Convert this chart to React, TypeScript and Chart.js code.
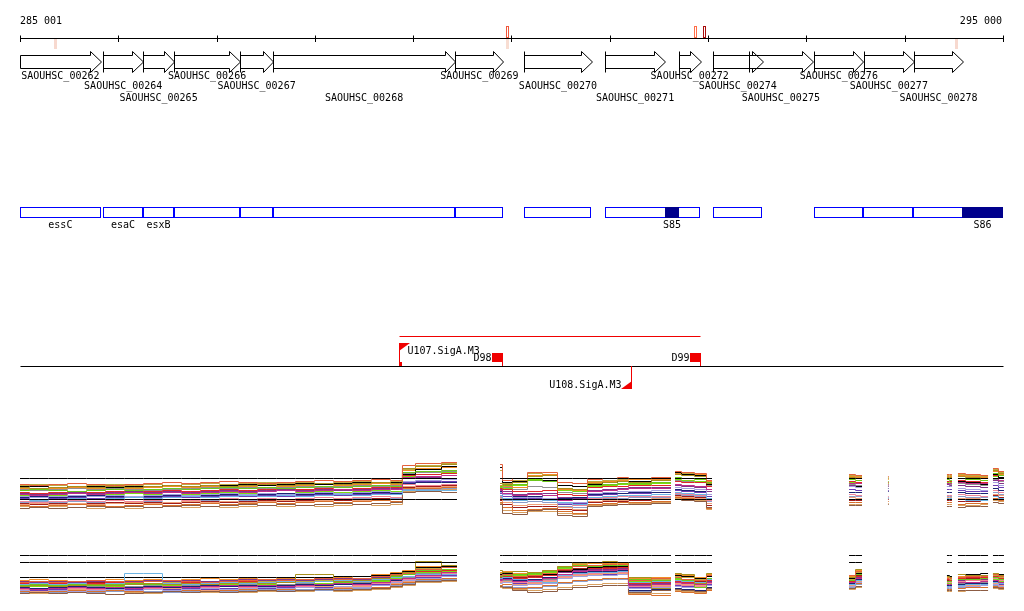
import React, { useEffect, useRef } from "react";
import { Chart, registerables } from "chart.js";

Chart.register(...registerables);

// ---------------- view / ruler ----------------
const viewStart = 285001;
const viewEnd = 295000;
const rulerTicks = [285001, 286000, 287000, 288000, 289000, 290000, 291000, 292000, 293000, 294000, 295000];
const rulerLabels = ["285 001", "295 000"];

// signal marks next to the ruler (position, strand, colour)
const markerPos = [285352, 289950, 289950, 291872, 291956, 294517];
const markerStrand = [-1, 1, -1, 1, 1, -1];
const markerColor = ["#f7d9cf", "#f0583c", "#f8ddd2", "#ff6e48", "#a80c0c", "#f7d9cf"];

// ---------------- genes ----------------
const geneNames = [
  "SAOUHSC_00262", "SAOUHSC_00264", "SAOUHSC_00265", "SAOUHSC_00266", "SAOUHSC_00267",
  "SAOUHSC_00268", "SAOUHSC_00269", "SAOUHSC_00270", "SAOUHSC_00271", "SAOUHSC_00272",
  "SAOUHSC_00274", "SAOUHSC_00275", "SAOUHSC_00276", "SAOUHSC_00277", "SAOUHSC_00278",
];
const geneStarts = [284700, 285850, 286252, 286568, 287239, 287575, 289428, 290128, 290952, 291704, 292050, 292416, 293078, 293586, 294095];
const geneEnds = [285822, 286252, 286568, 287239, 287575, 289426, 289919, 290819, 291562, 291923, 292554, 293064, 293581, 294090, 294593];
const geneRows = [0, 1, 2, 0, 1, 2, 0, 1, 2, 0, 1, 2, 0, 1, 2];

// ---------------- operons / sRNA ----------------
const operonStarts = [284700, 285845, 286252, 286568, 287239, 287575, 289426, 290128, 290952, 292050, 293078, 293576, 294085];
const operonEnds = [285822, 286252, 286568, 287239, 287575, 289426, 289914, 290809, 291918, 292549, 293576, 294085, 295300];
const operonNames = ["essC", "esaC", "esxB", "", "", "", "", "", "", "", "", "", ""];
const srnaStarts = [291562, 294583];
const srnaEnds = [291704, 295300];
const srnaNames = ["S85", "S86"];

// ---------------- transcription units ----------------
const tuStarts = [288856];
const tuEnds = [291918];
const promoterNames = ["U107.SigA.M3", "U108.SigA.M3"];
const promoterPos = [288856, 291216];
const promoterStrand = [1, -1];
const terminatorNames = ["D98", "D99"];
const terminatorPos = [289904, 291918];

// ---------------- expression profiles ----------------
// probe positions (bp); a null value in a series breaks the line (no probes there)
const probeX = [
  285001, 285194, 285388, 285581, 285774, 285967, 286161, 286354, 286547, 286740,
  286934, 287127, 287320, 287513, 287707, 287900, 288093, 288287, 288480, 288673,
  288866, 288917, 289131, 289446,
  289660,
  289884, 289934, 290087, 290240, 290392, 290545, 290697, 290850, 291002, 291155, 291226, 291623,
  291643,
  291664, 291796, 291928, 292040,
  292732,
  293434, 293566,
  293698,
  293830, 293840,
  294156,
  294430, 294481,
  294512,
  294542, 294695, 294848,
  294878,
  294898, 295010,
];

// panel 1 (upper profiles)
const p1Orange = [10.0, 9.75, 10.0, 10.25, 10.0, 9.75, 10.0, 10.25, 10.5, 10.25, 10.5, 10.75, 10.5, 10.25, 10.5, 10.75, 11.0, 10.75, 11.0, 11.25, 11.0, 14.75, 15.25, 15.5, null, 15.0, 11.0, 11.5, 13.0, 13.0, 10.5, 10.25, 11.25, 11.5, 11.75, 11.5, 11.75, null, 13.25, 13.0, 12.75, 11.0, null, 12.5, 12.25, null, 12.0, 12.0, null, 12.5, 12.5, null, 12.75, 12.5, 12.25, null, 14.0, 13.25];
const p1Olive = [9.25, 9.0, 9.25, 9.5, 9.25, 9.5, 9.25, 9.5, 9.75, 9.5, 9.75, 9.5, 9.75, 10.0, 9.75, 10.0, 10.25, 10.0, 10.25, 10.5, 10.25, 14.0, 14.5, 15.0, null, 10.25, 10.0, 10.5, 12.0, 12.25, 9.0, 8.75, 10.25, 10.5, 10.75, 10.5, 11.0, null, 12.5, 12.25, 12.0, 10.25, null, 11.75, 11.5, null, 11.5, 11.5, null, 11.75, 11.75, null, 12.0, 11.75, 11.5, null, 13.5, 12.75];
const p1Magenta = [7.5, 7.25, 7.5, 7.75, 7.5, 7.75, 8.0, 7.75, 8.0, 7.75, 8.0, 8.25, 8.0, 8.25, 8.5, 8.25, 8.5, 8.75, 8.5, 8.75, 8.75, 11.75, 12.0, 12.25, null, 8.5, 7.75, 7.25, 7.5, 7.25, 6.0, 6.25, 8.25, 8.5, 8.75, 9.0, 9.0, null, 10.0, 9.75, 9.5, 8.75, null, 10.25, 10.25, null, 10.0, 10.0, null, 10.25, 10.25, null, 10.5, 10.25, 10.25, null, 11.5, 11.0];
const p1Blue = [6.25, 6.0, 6.25, 6.5, 6.25, 6.5, 6.75, 6.5, 6.75, 7.0, 6.75, 7.0, 7.25, 7.0, 7.25, 7.0, 7.25, 7.5, 7.25, 7.5, 7.5, 8.5, 8.5, 8.5, null, 7.25, 6.5, 6.0, 6.25, 6.0, 5.5, 5.0, 6.75, 7.0, 7.25, 7.25, 7.5, null, 8.0, 7.75, 7.5, 6.5, null, 6.25, 6.25, null, 6.5, 6.5, null, 6.5, 6.5, null, 6.25, 6.0, 6.0, null, 7.0, 6.5];
const p1Green = [8.5, 8.75, 8.5, 8.25, 8.5, 8.75, 8.5, 8.75, 9.0, 8.75, 9.0, 9.25, 9.0, 9.25, 9.0, 9.25, 9.5, 9.25, 9.5, 9.75, 9.5, 13.0, 13.25, 13.5, null, 9.5, 9.75, 10.0, 11.0, 10.75, 9.0, 8.75, 9.75, 10.0, 10.25, 10.25, 10.5, null, 11.75, 11.5, 11.25, 10.5, null, 11.25, 11.0, null, 10.75, 10.75, null, 11.25, 11.0, null, 11.5, 11.25, 11.0, null, 12.75, 12.25];
const p1Lavender = [7.0, 6.75, 7.0, 7.25, 7.0, 7.25, 7.0, 7.25, 7.5, 7.25, 7.5, 7.75, 7.5, 7.75, 7.5, 7.75, 8.0, 7.75, 8.0, 8.25, 8.0, 10.75, 11.0, 11.25, null, 8.0, 7.5, 6.75, 6.75, 6.5, 5.25, 5.5, 7.75, 8.0, 8.25, 8.25, 8.5, null, 9.25, 9.0, 8.75, 7.5, null, 9.5, 9.25, null, 9.0, 9.0, null, 9.5, 9.5, null, 9.0, 8.75, 8.5, null, 10.5, 9.75];
const p1Brown = [4.0, 4.25, 4.0, 4.25, 4.5, 4.25, 4.5, 4.25, 4.5, 4.75, 4.5, 4.75, 5.0, 4.75, 5.0, 4.75, 5.0, 5.25, 5.0, 5.25, 5.5, 8.0, 8.25, 8.0, null, 5.0, 2.75, 2.5, 3.5, 3.75, 2.25, 2.0, 4.5, 4.75, 5.0, 5.0, 5.25, null, 6.25, 6.0, 5.75, 4.25, null, 4.75, 4.75, null, 5.0, 5.0, null, 4.5, 4.5, null, 4.25, 4.5, 4.5, null, 5.5, 5.25];
const p1Navy = [6.75, 7.0, 6.75, 7.0, 7.25, 7.0, 6.75, 7.0, 7.25, 7.0, 7.25, 7.5, 7.25, 7.5, 7.75, 7.5, 7.75, 7.5, 7.75, 8.0, 7.75, 10.25, 10.5, 10.5, null, 8.25, 7.75, 7.0, 7.0, 7.25, 6.5, 6.75, 7.5, 7.75, 7.75, 8.0, 8.0, null, 8.75, 8.5, 8.25, 7.5, null, 8.0, 8.0, null, 8.25, 8.25, null, 8.0, 8.0, null, 8.0, 7.75, 7.75, null, 9.0, 8.5];
const p1Pink = [5.75, 5.5, 5.75, 6.0, 5.75, 6.0, 5.75, 6.0, 6.25, 6.0, 6.25, 6.5, 6.25, 6.5, 6.25, 6.5, 6.75, 6.5, 6.75, 7.0, 6.75, 10.0, 9.75, 10.0, null, 7.0, 6.5, 6.25, 6.25, 6.0, 5.25, 4.75, 6.5, 6.75, 7.0, 7.0, 7.0, null, 7.75, 7.5, 7.25, 6.0, null, 7.5, 7.25, null, 7.0, 7.0, null, 7.25, 7.25, null, 7.5, 7.25, 7.0, null, 8.5, 8.0];
const p1Black = [9.5, 9.5, 9.25, 9.5, 9.5, 9.25, 9.5, 9.5, 9.75, 9.5, 9.75, 9.75, 10.0, 9.75, 10.0, 10.25, 10.0, 10.25, 10.5, 10.5, 10.5, 12.5, 13.75, 14.5, null, 14.25, 10.5, 10.75, 11.0, 11.0, 9.75, 9.5, 10.0, 10.5, 10.75, 10.75, 11.0, null, 13.0, 12.5, 12.25, 10.0, null, 9.5, 9.5, null, 9.0, 9.0, null, 9.5, 9.5, null, 10.75, 10.5, 10.0, null, 12.5, 11.75];
const p1DarkOrange = [4.75, 4.5, 4.75, 5.0, 4.75, 4.5, 4.75, 5.0, 4.75, 5.0, 5.25, 5.0, 5.25, 5.5, 5.25, 5.5, 5.75, 5.5, 5.75, 6.0, 5.75, 9.0, 9.0, 9.25, null, 5.5, 4.25, 3.5, 3.75, 4.0, 3.25, 2.75, 5.0, 5.25, 5.5, 5.5, 5.75, null, 6.75, 6.5, 6.25, 4.0, null, 5.5, 5.5, null, 5.75, 5.75, null, 5.5, 5.5, null, 5.0, 5.25, 5.25, null, 6.5, 6.0];
const p1Red = [8.0, 7.75, 8.0, 8.25, 8.0, 8.25, 8.0, 8.25, 8.5, 8.25, 8.5, 8.75, 8.5, 8.75, 9.0, 8.75, 9.0, 9.25, 9.0, 9.25, 9.25, 12.25, 12.5, 12.75, null, 9.0, 8.75, 8.25, 8.25, 8.5, 7.5, 7.25, 9.25, 9.5, 9.5, 9.75, 9.75, null, 10.75, 10.5, 10.5, 9.5, null, 10.75, 10.5, null, 10.5, 10.5, null, 10.75, 10.75, null, 11.0, 10.75, 10.5, null, 12.25, 11.5];
const p1Salmon = [5.0, 5.25, 5.0, 5.25, 5.0, 5.25, 5.5, 5.25, 5.5, 5.75, 5.5, 5.75, 5.5, 5.75, 6.0, 5.75, 6.0, 6.25, 6.0, 6.25, 6.25, 9.5, 9.25, 9.5, null, 6.5, 5.5, 4.75, 5.0, 5.0, 4.25, 3.75, 5.75, 6.0, 6.0, 6.25, 6.5, null, 7.0, 6.75, 6.5, 5.25, null, 6.75, 6.5, null, 6.5, 6.5, null, 6.75, 6.75, null, 6.5, 6.5, 6.25, null, 7.5, 7.25];
const p1Plum = [7.75, 7.5, 7.75, 8.0, 7.75, 8.0, 8.25, 8.0, 8.25, 8.0, 8.25, 8.5, 8.25, 8.5, 8.75, 8.5, 8.75, 8.5, 8.75, 9.0, 9.0, 11.5, 11.75, 11.5, null, 8.75, 8.25, 7.5, 7.75, 7.75, 6.75, 6.5, 8.5, 8.75, 9.0, 9.25, 9.25, null, 9.75, 9.5, 9.25, 8.25, null, 9.75, 9.5, null, 9.5, 9.5, null, 10.0, 9.75, null, 9.75, 9.5, 9.25, null, 11.0, 10.25];
const p1Amber = [9.0, 8.75, 9.0, 9.25, 9.0, 9.25, 9.0, 9.25, 9.5, 9.25, 9.5, 9.25, 9.5, 9.75, 9.5, 9.75, 10.0, 9.75, 10.0, 10.25, 10.0, 13.5, 14.0, 14.25, null, 9.75, 9.5, 9.25, 12.25, 12.5, 8.75, 8.5, 10.5, 10.75, 11.0, 11.25, 11.25, null, 12.75, 12.5, 12.5, 10.75, null, 12.0, 11.75, null, 11.25, 11.25, null, 12.0, 12.0, null, 12.25, 12.0, 11.75, null, 13.25, 12.5];
const p1Slate = [5.5, 5.75, 5.5, 5.75, 5.5, 5.25, 5.5, 5.75, 5.5, 5.75, 6.0, 5.75, 6.0, 5.75, 6.0, 6.25, 6.0, 6.25, 6.5, 6.25, 6.5, 8.75, 8.75, 9.0, null, 6.75, 6.0, 5.5, 5.75, 5.5, 4.5, 4.25, 6.25, 6.5, 6.5, 6.75, 6.75, null, 7.5, 7.25, 7.0, 5.75, null, 7.0, 7.0, null, 6.75, 6.75, null, 7.0, 7.0, null, 7.0, 6.75, 6.75, null, 8.0, 7.5];
const p1Lime = [7.25, 7.5, 7.25, 7.0, 7.25, 7.5, 7.75, 7.5, 7.25, 7.5, 7.75, 8.0, 7.75, 7.5, 7.75, 8.0, 8.25, 8.0, 8.25, 8.5, 8.25, 12.0, 12.5, 13.0, null, 9.25, 9.0, 9.75, 11.25, 11.0, 8.5, 8.25, 9.5, 9.75, 10.0, 10.0, 10.25, null, 11.25, 11.0, 10.75, 10.0, null, 10.5, 10.25, null, 10.25, 10.25, null, 10.5, 10.5, null, 10.75, 10.5, 10.5, null, 12.0, 11.5];
const p1Khaki = [9.75, 10.0, 9.75, 9.5, 9.75, 10.0, 9.75, 10.0, 9.75, 10.0, 10.25, 10.0, 10.25, 10.5, 10.25, 10.5, 10.25, 10.5, 10.75, 10.5, 10.75, 13.75, 14.75, 15.25, null, 13.5, 10.25, 11.0, 12.75, 12.5, 9.75, 9.5, 10.75, 11.0, 11.25, 11.25, 11.5, null, 13.0, 12.75, 12.5, 10.5, null, 12.25, 12.0, null, 11.75, 11.75, null, 12.25, 12.25, null, 12.5, 12.25, 12.0, null, 13.75, 13.0];
const p1Purple = [6.5, 6.75, 6.5, 6.75, 6.5, 6.75, 7.0, 6.75, 7.0, 6.75, 7.0, 7.25, 7.0, 7.25, 7.0, 7.25, 7.5, 7.25, 7.5, 7.75, 7.5, 10.5, 10.75, 10.75, null, 7.75, 7.0, 6.5, 6.5, 6.25, 5.0, 5.25, 7.25, 7.5, 7.75, 7.75, 8.0, null, 8.5, 8.25, 8.0, 7.0, null, 8.75, 8.5, null, 8.5, 8.5, null, 8.75, 8.75, null, 8.5, 8.25, 8.25, null, 9.75, 9.25];
const p1Grey = [8.75, 8.5, 8.75, 9.0, 8.75, 9.0, 8.75, 8.5, 8.75, 9.0, 9.25, 9.0, 9.25, 9.0, 9.25, 9.5, 9.25, 9.5, 9.75, 9.5, 9.75, 12.75, 13.0, 13.25, null, 9.25, 9.25, 8.75, 9.5, 9.25, 8.0, 7.75, 9.5, 9.75, 10.0, 10.0, 10.25, null, 11.0, 10.75, 10.75, 9.75, null, 10.0, 9.75, null, 9.75, 9.75, null, 10.25, 10.0, null, 10.25, 10.0, 9.75, null, 11.25, 10.75];
const p1Tan = [4.5, 4.25, 4.5, 4.25, 4.0, 4.25, 4.0, 4.25, 4.5, 4.25, 4.5, 4.25, 4.5, 4.75, 4.5, 4.75, 4.5, 4.75, 5.0, 4.75, 5.0, 8.25, 8.5, 8.75, null, 5.25, 3.5, 3.0, 3.25, 3.25, 2.75, 2.5, 4.75, 5.0, 5.0, 5.25, 5.5, null, 6.5, 6.25, 6.0, 3.75, null, 5.0, 5.0, null, 5.25, 5.25, null, 5.0, 5.0, null, 4.75, 4.75, 5.0, null, 6.0, 5.75];
const p1DarkRed = [5.25, 5.0, 5.25, 5.0, 5.25, 5.5, 5.25, 5.5, 5.25, 5.5, 5.75, 5.5, 5.75, 6.0, 5.75, 6.0, 6.25, 6.0, 6.25, 6.5, 6.25, 9.25, 9.5, 9.75, null, 6.0, 5.0, 4.25, 4.5, 4.5, 3.75, 3.5, 5.5, 5.75, 5.75, 6.0, 6.25, null, 7.25, 7.0, 6.75, 4.75, null, 6.0, 6.0, null, 6.25, 6.25, null, 6.0, 6.0, null, 5.75, 5.75, 6.0, null, 7.25, 6.75];

// panel 2 (lower profiles)
const p2Orange = [6.5, 6.75, 6.5, 6.75, 7.0, 6.75, 6.5, 6.75, 7.0, 6.75, 6.5, 6.75, 7.0, 7.25, 7.0, 7.25, 7.5, 7.25, 7.5, 8.0, 8.5, 8.75, 9.75, 10.25, null, 8.25, 8.5, 8.0, 8.25, 8.75, 9.75, 10.5, 10.75, 11.0, 11.0, 7.0, 7.5, null, 7.75, 7.25, 7.0, 8.25, null, 8.25, 9.25, null, null, null, null, 7.5, 7.5, null, 7.75, 8.0, 8.0, null, 8.5, 8.0];
const p2Olive = [5.5, 5.75, 5.5, 5.75, 6.0, 5.75, 6.0, 6.25, 6.0, 6.25, 6.0, 6.25, 6.5, 6.25, 6.5, 8.5, 8.5, 6.75, 7.0, 7.5, 8.25, 9.0, 11.75, 10.75, null, 9.5, 9.0, 9.25, 9.0, 9.5, 10.5, 11.5, 11.5, 11.75, 11.5, 7.75, 5.0, null, 8.75, 8.5, 6.25, 8.75, null, 7.75, 9.75, null, null, null, null, 8.0, 7.75, null, 8.5, 8.25, 8.25, null, 8.75, 8.25];
const p2Magenta = [5.0, 4.75, 5.0, 5.25, 5.0, 5.25, 5.0, 5.25, 5.5, 5.25, 5.5, 5.75, 5.5, 5.75, 5.5, 5.75, 6.0, 6.25, 6.0, 6.5, 7.25, 7.5, 8.25, 9.0, null, 7.0, 7.25, 6.75, 7.0, 7.5, 8.5, 9.25, 9.5, 9.5, 9.75, 5.75, 6.0, null, 6.5, 6.25, 6.0, 6.5, null, 6.5, 7.5, null, null, null, null, 6.0, 6.0, null, 6.5, 6.5, 6.75, null, 7.0, 6.5];
const p2Blue = [6.0, 6.25, 6.0, 6.25, 6.0, 6.25, 8.75, 8.75, 6.25, 6.0, 6.25, 6.5, 6.25, 6.5, 6.75, 6.5, 6.75, 7.0, 6.75, 7.25, 7.75, 8.0, 8.5, 8.5, null, 7.5, 7.75, 7.25, 6.75, 6.5, 8.25, 8.75, 9.0, 9.0, 9.25, 6.5, 6.75, null, 7.0, 6.75, 6.5, 7.25, null, 6.0, 7.0, null, null, null, null, 5.5, 5.5, null, 5.75, 6.0, 6.0, null, 6.5, 6.25];
const p2Green = [5.75, 6.0, 5.75, 6.0, 5.75, 6.0, 6.25, 6.0, 6.25, 6.0, 6.25, 6.5, 6.25, 6.5, 6.75, 6.5, 6.75, 6.5, 6.75, 7.0, 8.0, 8.5, 9.5, 9.75, null, 8.0, 8.25, 8.5, 8.75, 9.25, 10.25, 10.75, 10.5, 10.75, 10.75, 7.25, 7.0, null, 7.5, 7.0, 5.25, 7.5, null, 7.0, 8.5, null, null, null, null, 6.75, 6.75, null, 7.25, 7.25, 7.5, null, 7.75, 7.25];
const p2Lavender = [4.5, 4.75, 4.5, 4.25, 4.5, 4.75, 4.5, 4.75, 4.5, 4.75, 5.0, 4.75, 5.0, 5.25, 5.0, 5.25, 5.0, 5.5, 5.25, 5.75, 6.5, 7.0, 7.5, 8.0, null, 6.25, 6.5, 5.75, 6.0, 6.25, 7.5, 8.0, 8.25, 8.25, 8.5, 5.0, 5.25, null, 5.5, 5.25, 5.25, 5.75, null, 5.5, 6.5, null, null, null, null, 5.25, 5.25, null, 5.5, 5.5, 5.75, null, 6.0, 5.5];
const p2Brown = [3.75, 4.0, 3.75, 4.0, 3.75, 3.5, 3.75, 4.0, 4.25, 4.0, 4.25, 4.0, 4.25, 4.5, 4.25, 4.5, 4.75, 4.5, 4.75, 5.0, 5.5, 6.0, 6.75, 7.0, null, 5.5, 5.25, 4.5, 4.0, 4.25, 4.75, 5.25, 5.5, 5.75, 5.75, 4.0, 4.5, null, 4.75, 4.5, 4.25, 5.0, null, 5.0, 5.5, null, null, null, null, 4.5, 4.5, null, 4.5, 4.5, 4.5, null, 5.25, 5.0];
const p2Navy = [5.25, 5.0, 5.25, 5.5, 5.25, 5.0, 5.25, 5.5, 5.25, 5.5, 5.75, 5.5, 5.75, 5.5, 5.75, 6.0, 5.75, 6.0, 6.25, 6.5, 7.0, 7.5, 8.25, 8.5, null, 7.5, 7.5, 7.0, 7.25, 7.75, 8.5, 9.0, 9.25, 9.25, 9.5, 4.5, 4.75, null, 5.0, 4.75, 4.5, 5.25, null, 6.25, 7.25, null, null, null, null, 5.75, 5.75, null, 6.0, 6.25, 6.25, null, 6.75, 6.5];
const p2Pink = [4.75, 5.0, 5.25, 5.0, 4.75, 5.0, 5.25, 5.0, 5.25, 5.5, 5.25, 5.5, 5.25, 5.5, 5.75, 5.5, 5.75, 6.0, 5.75, 6.25, 6.75, 7.25, 8.0, 8.75, null, 6.75, 6.5, 6.5, 6.5, 7.0, 8.0, 8.5, 8.75, 9.0, 9.0, 5.5, 5.5, null, 6.0, 5.75, 5.5, 6.25, null, 6.5, 7.5, null, null, null, null, 6.5, 6.5, null, 6.75, 7.0, 7.0, null, 7.5, 7.0];
const p2Black = [7.75, 7.75, 7.75, 7.75, 7.75, 7.75, 7.75, 7.75, 7.75, 7.75, 7.75, 7.75, 7.75, 7.75, 7.75, 7.75, 7.75, 8.0, 8.0, 8.25, 8.75, 9.25, 10.25, 10.5, null, 8.5, 8.75, 8.5, 8.25, 8.5, 9.25, 9.75, 10.25, 10.5, 10.5, 7.25, 7.0, null, 8.25, 8.0, 7.5, 8.0, null, 7.5, 8.75, null, null, null, null, 8.25, 8.0, null, 8.5, 8.5, 8.75, null, 8.5, 8.5];
const p2DarkOrange = [4.25, 4.0, 4.25, 4.5, 4.25, 4.5, 4.25, 4.0, 4.25, 4.5, 4.25, 4.5, 4.75, 4.5, 4.75, 4.5, 4.75, 5.0, 4.75, 5.25, 6.0, 6.5, 7.25, 7.5, null, 5.75, 6.0, 5.0, 5.25, 5.75, 6.5, 7.0, 7.25, 7.5, 7.5, 3.5, 3.25, null, 4.25, 4.0, 3.75, 4.5, null, 5.5, 6.25, null, null, null, null, 4.75, 4.75, null, 5.0, 5.25, 5.25, null, 5.5, 5.25];
const p2Red = [6.25, 6.0, 6.25, 6.0, 6.25, 6.5, 6.25, 6.0, 6.25, 6.5, 6.25, 6.5, 6.75, 6.5, 6.75, 6.5, 6.75, 7.0, 6.75, 7.25, 8.0, 8.5, 9.25, 9.5, null, 7.75, 8.0, 7.5, 7.75, 8.25, 9.25, 9.75, 10.0, 10.0, 10.25, 6.25, 6.5, null, 6.75, 6.5, 6.25, 7.0, null, 6.75, 8.0, null, null, null, null, 7.25, 7.0, null, 7.5, 7.75, 7.75, null, 8.0, 7.5];
const p2Salmon = [4.5, 4.25, 4.5, 4.75, 4.5, 4.75, 4.5, 4.75, 5.0, 4.75, 4.5, 4.75, 5.0, 5.25, 5.0, 5.25, 5.5, 5.25, 5.5, 5.75, 6.25, 6.75, 7.25, 8.0, null, 6.5, 6.75, 6.0, 6.25, 6.75, 7.75, 8.25, 8.5, 8.75, 8.75, 5.5, 5.75, null, 6.25, 6.0, 5.75, 6.5, null, 5.75, 6.75, null, null, null, null, 5.5, 5.5, null, 5.5, 5.75, 5.75, null, 6.25, 5.75];
const p2Plum = [6.75, 6.5, 6.75, 6.5, 6.75, 6.5, 6.75, 7.0, 6.75, 7.0, 6.75, 7.0, 7.25, 7.0, 7.25, 7.0, 7.25, 7.5, 7.25, 7.75, 8.25, 8.5, 9.25, 9.0, null, 7.25, 7.5, 7.0, 7.25, 7.75, 9.0, 9.5, 9.75, 9.75, 10.0, 6.0, 6.25, null, 6.75, 6.5, 6.25, 6.75, null, 6.5, 7.75, null, null, null, null, 6.75, 6.75, null, 7.0, 7.25, 7.25, null, 7.75, 7.25];
const p2Amber = [7.0, 7.25, 7.0, 6.75, 7.0, 7.25, 7.0, 7.25, 7.0, 7.25, 7.5, 7.25, 7.5, 7.25, 7.5, 7.75, 7.5, 7.75, 8.0, 8.5, 9.0, 9.5, 10.5, 10.75, null, 9.0, 9.25, 8.75, 9.0, 9.25, 10.25, 11.0, 11.25, 11.25, 11.25, 7.5, 7.75, null, 8.5, 8.25, 7.75, 8.5, null, 8.0, 9.5, null, null, null, null, 7.75, 7.75, null, 8.0, 8.25, 8.25, null, 8.75, 8.25];
const p2Slate = [4.0, 4.25, 4.0, 4.25, 4.0, 4.25, 4.5, 4.25, 4.0, 4.25, 4.5, 4.25, 4.5, 4.75, 4.5, 4.75, 4.5, 4.75, 5.0, 5.25, 5.75, 6.25, 7.0, 7.25, null, 5.75, 5.5, 5.25, 5.0, 5.5, 6.25, 6.75, 7.0, 7.25, 7.25, 4.25, 4.5, null, 4.75, 4.5, 4.5, 5.0, null, 5.25, 6.0, null, null, null, null, 5.0, 5.0, null, 5.25, 5.25, 5.25, null, 5.75, 5.25];
const p2Lime = [5.25, 5.5, 5.25, 5.5, 5.75, 5.5, 5.25, 5.5, 5.75, 5.5, 5.75, 6.0, 5.75, 6.0, 5.75, 6.0, 6.25, 6.0, 6.25, 6.75, 7.5, 8.0, 9.0, 9.25, null, 7.75, 8.0, 8.25, 8.5, 9.0, 10.0, 10.5, 10.75, 10.5, 10.75, 6.75, 6.5, null, 7.25, 6.75, 6.5, 7.0, null, 6.75, 8.0, null, null, null, null, 6.25, 6.25, null, 6.75, 7.0, 7.0, null, 7.25, 6.75];
const p2Khaki = [6.0, 5.75, 6.0, 6.25, 6.0, 6.25, 6.0, 6.25, 6.5, 6.25, 6.5, 6.25, 6.5, 6.75, 6.5, 6.75, 7.0, 6.75, 7.0, 7.5, 8.0, 8.75, 10.0, 10.25, null, 8.75, 9.0, 8.75, 9.0, 9.5, 10.5, 11.25, 11.25, 11.5, 11.25, 7.25, 7.25, null, 8.0, 7.75, 7.25, 8.0, null, 7.25, 9.0, null, null, null, null, 7.25, 7.25, null, 7.5, 7.75, 7.75, null, 8.25, 7.75];
const p2Purple = [4.75, 4.5, 4.75, 4.5, 4.75, 5.0, 4.75, 5.0, 4.75, 5.0, 4.75, 5.0, 5.25, 5.0, 5.25, 5.5, 5.25, 5.5, 5.75, 6.0, 6.5, 7.0, 7.75, 8.25, null, 6.5, 6.75, 6.25, 6.25, 6.75, 7.75, 8.25, 8.5, 8.5, 8.75, 5.25, 5.0, null, 5.75, 5.5, 5.5, 6.0, null, 6.0, 7.0, null, null, null, null, 5.75, 5.75, null, 6.0, 6.25, 6.25, null, 6.25, 6.0];
const p2Grey = [5.5, 5.75, 5.5, 5.25, 5.5, 5.75, 5.5, 5.75, 5.5, 5.75, 6.0, 5.75, 6.0, 5.75, 6.0, 6.25, 6.0, 6.25, 6.5, 6.75, 7.5, 7.75, 8.75, 9.0, null, 7.25, 7.0, 6.75, 7.0, 7.25, 8.25, 8.75, 9.25, 9.25, 9.25, 6.25, 6.0, null, 6.5, 6.25, 6.0, 6.5, null, 6.5, 7.75, null, null, null, null, 6.25, 6.25, null, 6.25, 6.5, 6.5, null, 7.0, 6.75];
const p2Tan = [4.0, 3.75, 4.0, 4.25, 4.0, 4.25, 4.0, 3.75, 4.0, 4.25, 4.0, 4.25, 4.0, 4.25, 4.5, 4.25, 4.5, 4.25, 4.5, 4.75, 5.25, 5.75, 6.5, 6.75, null, 5.25, 5.0, 4.75, 4.5, 4.75, 5.25, 5.75, 6.0, 6.25, 6.25, 3.75, 3.75, null, 4.5, 4.25, 4.0, 4.75, null, 4.75, 5.25, null, null, null, null, 4.25, 4.25, null, 4.25, 4.5, 4.5, null, 5.0, 4.75];
const p2DarkRed = [6.5, 6.25, 6.5, 6.25, 6.5, 6.75, 6.5, 6.75, 6.5, 6.25, 6.5, 6.75, 6.5, 6.75, 7.0, 6.75, 7.0, 7.25, 7.0, 7.5, 8.25, 8.75, 9.5, 9.75, null, 8.0, 8.25, 7.75, 8.0, 8.5, 9.5, 10.0, 10.25, 10.25, 10.5, 6.75, 7.0, null, 7.25, 7.0, 6.75, 7.5, null, 7.0, 8.25, null, null, null, null, 7.0, 7.0, null, 7.25, 7.5, 7.5, null, 7.75, 7.5];

const panel1Refs = [11.5, 6.25];
const panel2Refs = [13.25, 11.5];

// ---------------- styles / layout ----------------
const profileColors = [
  "#e4603c", "#a8901c", "#c02c8c", "#6cb4e4", "#6cc81c", "#a4a0e0", "#8c5c44", "#1c2474",
  "#f08498", "#000000", "#d8702c", "#e02828", "#f0a078", "#843488", "#f08c28", "#8c9cc8",
  "#7cdc10", "#c0a840", "#6c3cb4", "#909090", "#d8a060", "#a01c1c",
];
const FONT = '10px "DejaVu Sans Mono", monospace';
const L = {
  rulerY: 38, tick: 3, rulerLabelY: 24,
  markUpTop: 26, markDownBottom: 49,
  bodyTop: 55, bodyBottom: 68, headTop: 51, headBottom: 72, headBp: 107,
  geneLabelY: [79, 89, 101],
  opTop: 207, opBottom: 217, opLabelY: 228,
  tuLineY: 336, baseY: 366,
  promTop: 343, promBottom: 389,
};
// panel value scales: 1 unit = 4 px
const yP1Range = { min: -21.625, max: 131.125 };
const yP2Range = { min: -0.625, max: 152.125 };

const tracksPlugin = {
  id: "tracks",
  afterDatasetsDraw(chart: any) {
    const ctx = chart.ctx;
    const xs = chart.scales.x;
    const ys = chart.scales.yT;
    const X = (bp: number) => xs.getPixelForValue(bp);
    const Y = (r: number) => ys.getPixelForValue(r);
    const cx = (bp: number) => Math.round(X(bp)) + 0.5;
    const cy = (r: number) => Math.round(Y(r)) + 0.5;
    const clamp = (bp: number) => Math.min(Math.max(bp, viewStart), viewEnd);
    ctx.save();
    ctx.lineWidth = 1;
    ctx.font = FONT;
    ctx.textBaseline = "alphabetic";

    // markers
    markerPos.forEach((p, i) => {
      const px = Math.round(X(p));
      if (markerStrand[i] > 0) {
        ctx.fillStyle = "#ffffff";
        ctx.fillRect(px - 1, Y(L.markUpTop), 3, Y(L.rulerY) - Y(L.markUpTop));
        ctx.strokeStyle = markerColor[i];
        ctx.strokeRect(px - 0.5, Y(L.markUpTop) + 0.5, 2, Y(L.rulerY) - Y(L.markUpTop) - 1);
      } else {
        ctx.fillStyle = markerColor[i];
        ctx.fillRect(px - 1, Y(L.rulerY) + 1, 3, Y(L.markDownBottom) - Y(L.rulerY) - 1);
      }
    });

    // ruler
    ctx.strokeStyle = "#000";
    ctx.beginPath();
    ctx.moveTo(cx(viewStart), cy(L.rulerY));
    ctx.lineTo(cx(viewEnd), cy(L.rulerY));
    rulerTicks.forEach((t) => {
      ctx.moveTo(cx(t), cy(L.rulerY - L.tick));
      ctx.lineTo(cx(t), cy(L.rulerY + L.tick) + 0.5);
    });
    ctx.stroke();
    ctx.fillStyle = "#000";
    ctx.textAlign = "left";
    ctx.fillText(rulerLabels[0], X(viewStart), Y(L.rulerLabelY));
    ctx.textAlign = "right";
    ctx.fillText(rulerLabels[1], X(viewEnd) - 1, Y(L.rulerLabelY));

    // genes
    ctx.strokeStyle = "#000";
    geneNames.forEach((name, i) => {
      const s = clamp(geneStarts[i]);
      const e = clamp(geneEnds[i]);
      const xs0 = cx(s);
      const xe = Math.round(X(e)) + 0.5;
      let xh = Math.round(X(e - L.headBp)) + 0.5;
      if (xh < xs0) xh = xs0;
      const yT = cy(L.bodyTop), yB = cy(L.bodyBottom), hT = cy(L.headTop), hB = cy(L.headBottom);
      const yM = (hT + hB) / 2;
      ctx.beginPath();
      ctx.moveTo(xs0, yT);
      ctx.lineTo(xh, yT);
      ctx.lineTo(xh, hT);
      ctx.lineTo(xe, yM);
      ctx.lineTo(xh, hB);
      ctx.lineTo(xh, yB);
      ctx.lineTo(xs0, yB);
      if (geneStarts[i] < viewStart) {
        ctx.closePath();
      } else {
        ctx.moveTo(xs0, hT);
        ctx.lineTo(xs0, hB);
      }
      ctx.stroke();
      ctx.textAlign = "center";
      ctx.fillText(name, (X(s) + X(e)) / 2, Y(L.geneLabelY[geneRows[i]]));
    });

    // operons
    operonStarts.forEach((st, i) => {
      const s = clamp(st), e = clamp(operonEnds[i]);
      const x0 = Math.round(X(s)) + 0.5;
      const x1 = Math.round(X(e)) - 0.5;
      ctx.strokeStyle = "#0000ff";
      ctx.strokeRect(x0, cy(L.opTop), x1 - x0, Y(L.opBottom) - Y(L.opTop));
      if (operonNames[i]) {
        ctx.fillStyle = "#000";
        ctx.textAlign = "center";
        ctx.fillText(operonNames[i], (X(s) + X(e)) / 2, Y(L.opLabelY));
      }
    });
    srnaStarts.forEach((st, i) => {
      const s = clamp(st), e = clamp(srnaEnds[i]);
      const x0 = Math.round(X(s));
      const x1 = Math.round(X(e));
      ctx.fillStyle = "#00008c";
      ctx.fillRect(x0, Y(L.opTop), x1 - x0, Y(L.opBottom) - Y(L.opTop) + 1);
      ctx.fillStyle = "#000";
      ctx.textAlign = "center";
      ctx.fillText(srnaNames[i], (X(s) + X(e)) / 2, Y(L.opLabelY));
    });

    // transcription units
    ctx.strokeStyle = "#000";
    ctx.beginPath();
    ctx.moveTo(cx(viewStart), cy(L.baseY));
    ctx.lineTo(cx(viewEnd), cy(L.baseY));
    ctx.stroke();
    ctx.strokeStyle = "#f00000";
    tuStarts.forEach((s, i) => {
      ctx.beginPath();
      ctx.moveTo(cx(s), cy(L.tuLineY));
      ctx.lineTo(cx(tuEnds[i]), cy(L.tuLineY));
      ctx.stroke();
    });
    promoterPos.forEach((p, i) => {
      const x = cx(p);
      ctx.strokeStyle = "#f00000";
      ctx.fillStyle = "#f00000";
      if (promoterStrand[i] > 0) {
        const top = Y(L.promTop);
        ctx.beginPath();
        ctx.moveTo(x, top);
        ctx.lineTo(x, Y(L.baseY));
        ctx.stroke();
        ctx.beginPath();
        ctx.moveTo(x - 0.5, top);
        ctx.lineTo(x + 10.5, top);
        ctx.lineTo(x - 0.5, top + 8);
        ctx.closePath();
        ctx.fill();
        ctx.fillRect(x - 0.5, Y(L.baseY) - 4, 3, 4);
        ctx.fillStyle = "#000";
        ctx.textAlign = "left";
        ctx.fillText(promoterNames[i], x + 8, top + 11);
      } else {
        const bot = Y(L.promBottom);
        ctx.beginPath();
        ctx.moveTo(x, Y(L.baseY));
        ctx.lineTo(x, bot);
        ctx.stroke();
        ctx.beginPath();
        ctx.moveTo(x + 0.5, bot);
        ctx.lineTo(x - 10.5, bot);
        ctx.lineTo(x + 0.5, bot - 8);
        ctx.closePath();
        ctx.fill();
        ctx.fillStyle = "#000";
        ctx.textAlign = "right";
        ctx.fillText(promoterNames[i], x - 10, bot - 1);
      }
    });
    terminatorPos.forEach((p, i) => {
      const xr = Math.round(X(p)) + 1;
      const base = Y(L.baseY);
      ctx.fillStyle = "#f00000";
      ctx.fillRect(xr - 11, base - 13, 11, 9);
      ctx.strokeStyle = "#f00000";
      ctx.beginPath();
      ctx.moveTo(xr - 0.5, base - 4);
      ctx.lineTo(xr - 0.5, base);
      ctx.stroke();
      ctx.fillStyle = "#000";
      ctx.textAlign = "right";
      ctx.fillText(terminatorNames[i], xr - 11.5, base - 5);
    });
    ctx.restore();
  },
};

export default function App() {
  const ref = useRef<HTMLCanvasElement | null>(null);
  useEffect(() => {
    document.body.style.margin = "0";
    const canvas = ref.current;
    if (!canvas) return;
    const panel1 = [p1Orange, p1Olive, p1Magenta, p1Blue, p1Green, p1Lavender, p1Brown, p1Navy, p1Pink, p1Black, p1DarkOrange, p1Red, p1Salmon, p1Plum, p1Amber, p1Slate, p1Lime, p1Khaki, p1Purple, p1Grey, p1Tan, p1DarkRed];
    const panel2 = [p2Orange, p2Olive, p2Magenta, p2Blue, p2Green, p2Lavender, p2Brown, p2Navy, p2Pink, p2Black, p2DarkOrange, p2Red, p2Salmon, p2Plum, p2Amber, p2Slate, p2Lime, p2Khaki, p2Purple, p2Grey, p2Tan, p2DarkRed];
    const line = (data: any[], axis: string, color: string) => ({
      type: "line",
      data,
      yAxisID: axis,
      xAxisID: "x",
      borderColor: color,
      backgroundColor: color,
      borderWidth: 1,
      pointRadius: 0,
      tension: 0,
      stepped: "middle",
      fill: false,
      spanGaps: false,
    });
    const refLine = (v: number, axis: string) =>
      line(probeX.map((x, i) => ({ x, y: panel2[0][i] === null ? null : v })), axis, "#000000");
    const datasets: any[] = [
      ...panel1Refs.map((v) => refLine(v, "yP1")),
      ...panel2Refs.map((v) => refLine(v, "yP2")),
      ...panel1.map((s, j) => line(probeX.map((x, i) => ({ x, y: s[i] })), "yP1", profileColors[j])),
      ...panel2.map((s, j) => line(probeX.map((x, i) => ({ x, y: s[i] })), "yP2", profileColors[j])),
    ];
    const bpPerPx = (viewEnd - viewStart) / 983;
    const xMin = viewStart - 20 * bpPerPx;
    const xMax = xMin + 1024 * bpPerPx;
    const chart = new Chart(canvas, {
      type: "line",
      data: { datasets },
      options: {
        animation: false,
        responsive: false,
        devicePixelRatio: 1,
        events: [],
        layout: { padding: 0 },
        plugins: { legend: { display: false }, tooltip: { enabled: false }, title: { display: false } },
        scales: {
          x: { type: "linear", min: xMin, max: xMax, display: false },
          y: { type: "linear", min: 0, max: 1, display: false },
          yT: { type: "linear", min: 0, max: 611, reverse: true, display: false },
          yP1: { type: "linear", min: yP1Range.min, max: yP1Range.max, display: false },
          yP2: { type: "linear", min: yP2Range.min, max: yP2Range.max, display: false },
        },
      },
      plugins: [tracksPlugin],
    } as any);
    return () => chart.destroy();
  }, []);
  return (
    <div style={{ width: 1024, height: 611 }}>
      <canvas ref={ref} width={1024} height={611} style={{ display: "block" }} />
    </div>
  );
}
